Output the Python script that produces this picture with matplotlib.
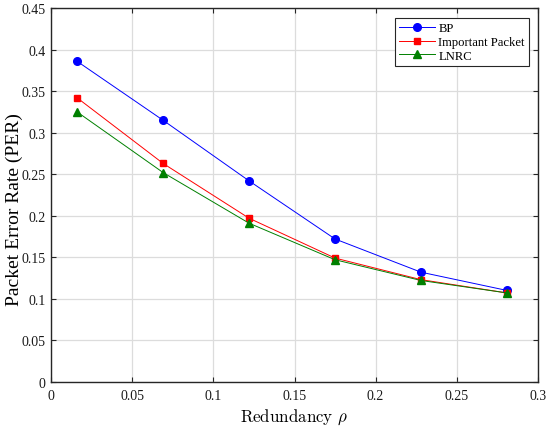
import matplotlib
matplotlib.use("Agg")
import matplotlib.pyplot as plt

redundancy = [0.016, 0.069, 0.122, 0.175, 0.228, 0.281]
per_bp = [0.386, 0.315, 0.242, 0.172, 0.132, 0.110]
per_important = [0.342, 0.263, 0.197, 0.149, 0.123, 0.107]
per_lnrc = [0.325, 0.252, 0.191, 0.147, 0.122, 0.107]
xticks = [0, 0.05, 0.1, 0.15, 0.2, 0.25, 0.3]
yticks = [0, 0.05, 0.1, 0.15, 0.2, 0.25, 0.3, 0.35, 0.4, 0.45]

plt.rcParams['font.family'] = ['Liberation Serif', 'DejaVu Serif']
plt.rcParams['mathtext.fontset'] = 'cm'

fig = plt.figure(figsize=(5.5, 4.27), dpi=100)
ax = fig.add_axes([0.0933, 0.1037, 0.8844, 0.8745])

ax.plot(redundancy, per_bp, color='#0000ff', marker='o', markersize=5.5, lw=0.7, label='BP')
ax.plot(redundancy, per_important, color='#ff0000', marker='s', markersize=4, lw=0.7, label='Important Packet')
ax.plot(redundancy, per_lnrc, color='#008000', marker='^', markersize=6, lw=0.7, label='LNRC')

ax.set_xlim(0, 0.3)
ax.set_ylim(0, 0.45)
ax.set_xticks(xticks)
ax.set_yticks(yticks)
ax.set_xticklabels([f"{t:g}" for t in xticks])
ax.set_yticklabels([f"{t:g}" for t in yticks])
ax.tick_params(direction='in', top=True, right=True, labelsize=10, length=3.5, width=0.8,
               colors='#262626', labelcolor='#1a1a1a')
ax.tick_params(axis='x', pad=5.5)
ax.tick_params(axis='y', pad=4)
ax.grid(True, color='#dcdcdc', lw=0.9)
ax.set_axisbelow(True)
for s in ax.spines.values():
    s.set_linewidth(1.0)
    s.set_color('#262626')

ax.set_xlabel(r'Redundancy $\rho$', fontsize=12.2, fontfamily='cmr10', labelpad=3)
ax.set_ylabel('Packet Error Rate (PER)', fontsize=14)
ax.yaxis.set_label_coords(-0.059, 0.4626)

leg = ax.legend(loc='upper right', bbox_to_anchor=(0.9816, 0.9733), borderaxespad=0,
                fontsize=9.1, frameon=True, fancybox=False,
                edgecolor='#262626', framealpha=1, borderpad=0.3, labelspacing=0.15,
                handlelength=2.9, handletextpad=0.25)
leg.get_frame().set_linewidth(0.8)

fig.savefig('out.png', dpi=100)
